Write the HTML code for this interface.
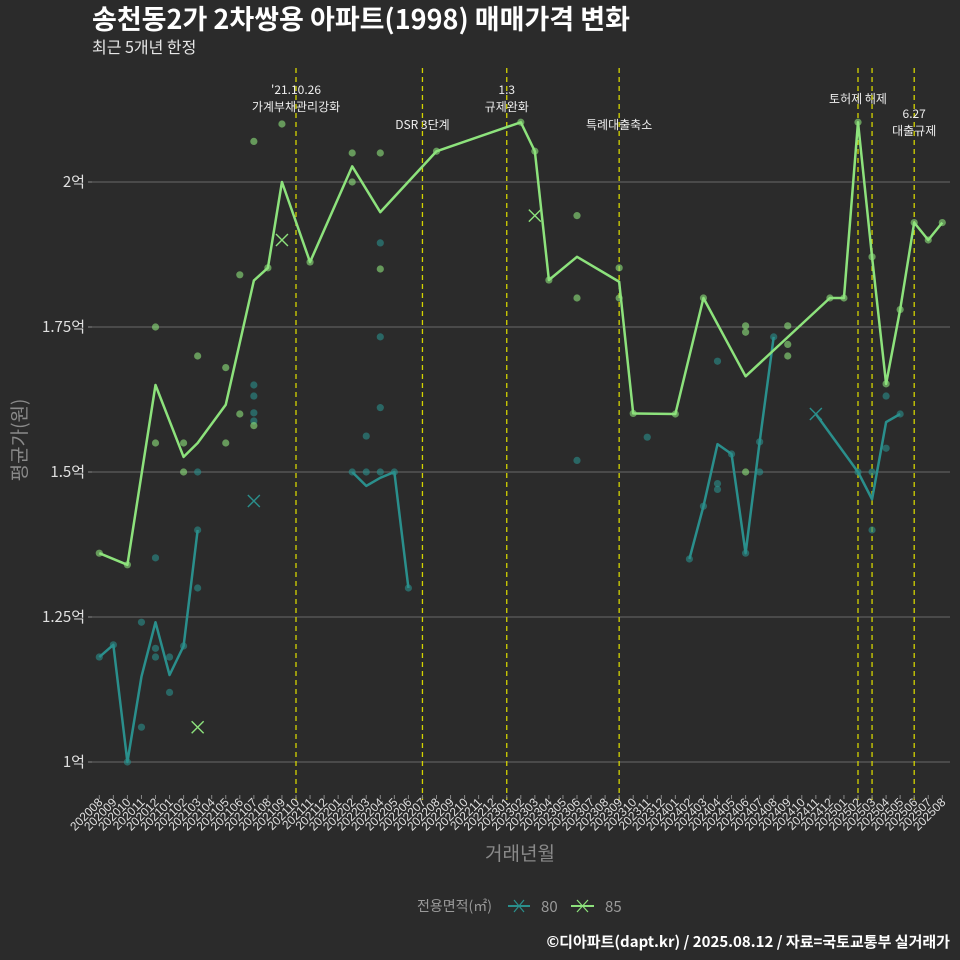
<!DOCTYPE html>
<html><head><meta charset="utf-8">
<style>
html,body{margin:0;padding:0;background:#2b2b2b;}
svg{display:block;font-family:"Liberation Sans","Noto Sans CJK KR",sans-serif;}
</style></head>
<body>
<svg id="chart" width="960" height="960" viewBox="0 0 960 960">
<rect x="0" y="0" width="960" height="960" fill="#2b2b2b"/>
<text x="92" y="29" fill="#ffffff" font-size="27" font-weight="bold" font-family="Noto Sans CJK KR, sans-serif">송천동2가 2차쌍용 아파트(1998) 매매가격 변화</text>
<text x="92" y="53" fill="#e6e6e6" font-size="16" font-family="Noto Sans CJK KR, sans-serif">최근 5개년 한정</text>
<g id="grid"></g><g id="vlines"></g><g id="series"></g><g id="xaxis"></g><g id="yaxis"></g>
<text x="520" y="860" fill="#8a8a8a" font-size="19" text-anchor="middle" font-family="Noto Sans CJK KR, sans-serif">거래년월</text>
<text transform="translate(26,440) rotate(-90)" fill="#8a8a8a" font-size="19" text-anchor="middle" font-family="Noto Sans CJK KR, sans-serif">평균가(원)</text>
<g font-family="Noto Sans CJK KR, sans-serif">
<text x="417" y="911" fill="#9a9a9a" font-size="14">전용면적(㎡)</text>
<g>
<line x1="508" y1="906" x2="530" y2="906" stroke="#2a8f8c" stroke-width="2"/>
<path d="M514 900 L524 912 M524 900 L514 912" stroke="#2a8f8c" stroke-width="1.2"/>
<text x="541" y="912" fill="#9a9a9a" font-size="15">80</text></g>
<g>
<line x1="571" y1="906" x2="594" y2="906" stroke="#8de27c" stroke-width="2"/>
<path d="M577 900 L588 912 M588 900 L577 912" stroke="#8de27c" stroke-width="1.2"/>
<text x="605" y="912" fill="#9a9a9a" font-size="15">85</text></g>
</g>
<text x="950" y="947" fill="#ffffff" font-size="15" font-weight="bold" text-anchor="end" font-family="Noto Sans CJK KR, sans-serif">©디아파트(dapt.kr) / 2025.08.12 / 자료=국토교통부 실거래가</text>
</svg>
<script>
const months = [];
for (let y = 2020, m = 8; !(y === 2025 && m === 9); ) { months.push(String(y) + (m < 10 ? '0' : '') + m); m++; if (m > 12) { m = 1; y++; } }
const yTicks = [1, 1.25, 1.5, 1.75, 2];
const yTickLabels = ['1억', '1.25억', '1.5억', '1.75억', '2억'];
// line series: [monthIndex, value(억)]; null = gap (no trade that month)
const line80 = [[0,1.181],[1,1.202],[2,1.0],[3,1.147],[4,1.241],[5,1.15],[6,1.2],[7,1.4],null,[18,1.5],[19,1.476],[20,1.49],[21,1.5],[22,1.30],null,[42,1.35],[43,1.441],[44,1.548],[45,1.531],[46,1.36],[47,1.552],[48,1.733],null,[51,1.60],[54,1.50],[55,1.453],[56,1.586],[57,1.60]];
const line85 = [[0,1.36],[2,1.34],[4,1.65],[6,1.526],[7,1.55],[9,1.616],[11,1.83],[12,1.852],[13,2.0],[15,1.862],[18,2.027],[20,1.948],[24,2.053],[30,2.103],[31,2.053],[32,1.831],[34,1.871],[37,1.828],[38,1.601],[41,1.60],[43,1.80],[46,1.665],[52,1.80],[53,1.80],[54,2.103],[55,1.871],[56,1.652],[57,1.78],[58,1.93],[59,1.90],[60,1.93]];
const dots80 = [[0,1.181],[1,1.202],[2,1.0],[3,1.241],[3,1.06],[4,1.352],[4,1.196],[4,1.181],[5,1.181],[5,1.12],[6,1.2],[7,1.5],[7,1.30],[7,1.4],[11,1.65],[11,1.631],[11,1.602],[11,1.588],[18,1.5],[19,1.5],[19,1.562],[20,1.5],[20,1.895],[20,1.733],[20,1.611],[21,1.5],[22,1.30],[34,1.52],[39,1.56],[42,1.35],[43,1.441],[44,1.691],[44,1.48],[44,1.47],[45,1.531],[46,1.36],[47,1.552],[47,1.5],[48,1.733],[54,1.5],[55,1.5],[55,1.40],[56,1.631],[56,1.541],[57,1.60]];
const dots85 = [[0,1.36],[2,1.34],[4,1.75],[4,1.55],[6,1.55],[6,1.5],[7,1.70],[9,1.68],[9,1.55],[10,1.84],[10,1.60],[11,2.07],[11,1.58],[12,1.852],[13,2.1],[15,1.862],[18,2.05],[18,2.0],[20,2.05],[20,1.85],[24,2.053],[30,2.103],[31,2.053],[32,1.831],[34,1.942],[34,1.80],[37,1.852],[37,1.80],[38,1.601],[41,1.60],[43,1.80],[46,1.752],[46,1.741],[46,1.5],[49,1.752],[49,1.72],[49,1.70],[52,1.80],[53,1.80],[54,2.103],[55,1.871],[56,1.652],[57,1.78],[58,1.93],[59,1.90],[60,1.93]];
const cross80 = [[11,1.45],[51,1.60]];
const cross85 = [[7,1.06],[13,1.90],[31,1.942]];
const eventMonths = ['202110','202207','202301','202309','202502','202503','202506'];
const eventLabels = [["'21.10.26","가계부채관리강화"],["DSR 3단계"],["1.3","규제완화"],["특례대출축소"],["토허제 해제"],[],["6.27","대출규제"]];
const eventLabelY = [94,129,94,129,103,0,118];

const NS = 'http://www.w3.org/2000/svg';
const X0 = 99.3, DX = 14.05;
function xs(i){ return X0 + i*DX; }
function ys(v){ return 762 - (v-1)*580; }
function mk(tag, attrs, parent){ const e = document.createElementNS(NS, tag); for (const k in attrs) e.setAttribute(k, attrs[k]); parent.appendChild(e); return e; }

const grid = document.getElementById('grid');
const yaxis = document.getElementById('yaxis');
yTicks.forEach((t, k) => {
  const l = mk('line', {x1:92, x2:950, y1:ys(t), y2:ys(t), stroke:'#6a6a6a', 'stroke-width':1}, grid);
  
  
  mk('line', {x1:88, x2:92, y1:ys(t), y2:ys(t), stroke:'#888', 'stroke-width':1}, yaxis);
  const tx = mk('text', {x:85, y:ys(t)+5, fill:'#e0e0e0', 'font-size':15, 'text-anchor':'end', 'font-family':'Noto Sans CJK KR, sans-serif'}, yaxis);
  tx.textContent = yTickLabels[k];
  
  
});

const xaxis = document.getElementById('xaxis');
months.forEach((m, i) => {
  mk('line', {x1:xs(i), x2:xs(i), y1:795, y2:799, stroke:'#888', 'stroke-width':1}, xaxis);
  const tx = mk('text', {transform:'translate('+(xs(i)+4)+',803) rotate(-45)', fill:'#e0e0e0', 'font-size':12, 'text-anchor':'end'}, xaxis);
  tx.textContent = m;
  
  
});

const vl = document.getElementById('vlines');
eventMonths.forEach((m, k) => {
  const x = xs(months.indexOf(m));
  const l = mk('line', {x1:x, x2:x, y1:68, y2:800, stroke:'#d4d400', 'stroke-width':1.3, 'stroke-dasharray':'5,4'}, vl);
  
  
  eventLabels[k].forEach((s, j) => {
    const t = mk('text', {x:x, y:eventLabelY[k]+j*17, fill:'#eeeeee', 'font-size':12, 'text-anchor':'middle', 'font-family':'Noto Sans CJK KR, sans-serif'}, vl);
    t.textContent = s;
    
    
  });
});

const sg = document.getElementById('series');
function drawLine(data, color, name){
  let segs = [[]];
  data.forEach(d => { if (d === null) segs.push([]); else segs[segs.length-1].push(xs(d[0]) + ',' + ys(d[1])); });
  segs.forEach(seg => {
    if (seg.length < 2) return;
    const p = mk('polyline', {points:seg.join(' '), fill:'none', stroke:color, 'stroke-width':2.5, 'stroke-linejoin':'round'}, sg);
    
    
  });
}
function drawDots(data, color, name){
  data.forEach(d => {
    const c = mk('circle', {cx:xs(d[0]), cy:ys(d[1]), r:3.6, fill:color, 'fill-opacity':0.6}, sg);
    
    
  });
}
function drawCross(data, color, name){
  data.forEach(d => {
    const x = xs(d[0]), y = ys(d[1]);
    const p = mk('path', {d:'M'+(x-6)+' '+(y-6)+' L'+(x+6)+' '+(y+6)+' M'+(x+6)+' '+(y-6)+' L'+(x-6)+' '+(y+6), stroke:color, 'stroke-width':1.4}, sg);
    
    
  });
}
drawDots(dots80, '#2a8f8c', 'dot-80');
drawDots(dots85, '#8de27c', 'dot-85');
drawLine(line80, '#2a8f8c', 'line-80');
drawLine(line85, '#8de27c', 'line-85');
drawCross(cross80, '#2a8f8c', 'cross-80');
drawCross(cross85, '#8de27c', 'cross-85');
</script>
</body></html>
